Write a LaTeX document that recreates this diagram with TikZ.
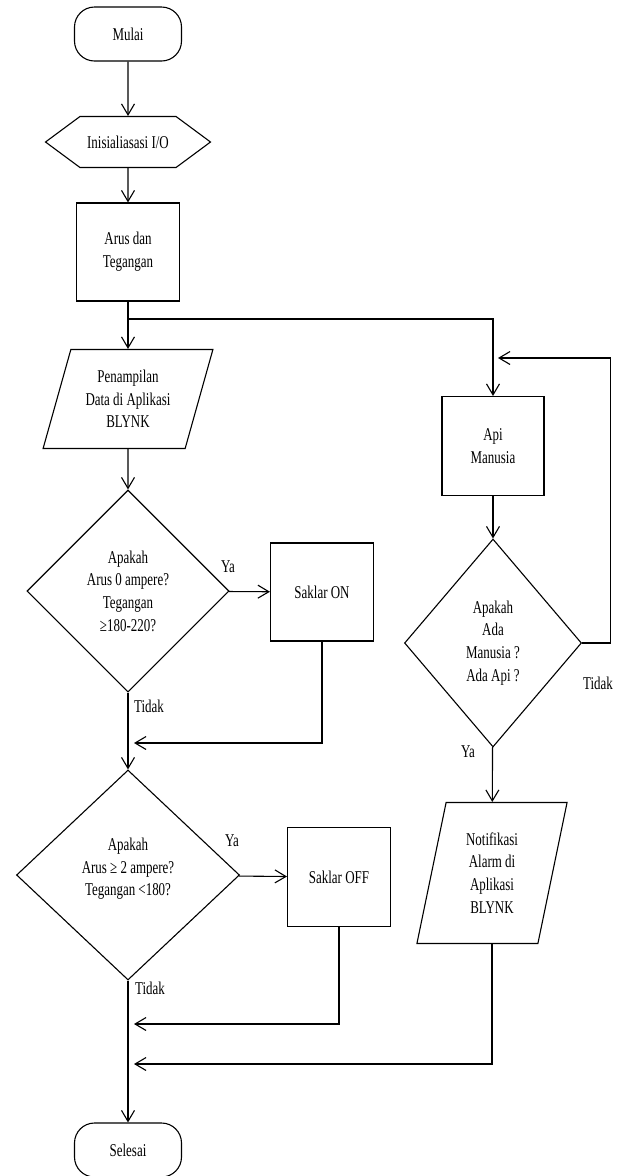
\documentclass[tikz,border=0pt]{standalone}
\usepackage{fontspec}
\setmainfont{Liberation Serif}[FakeStretch=0.72]
\usetikzlibrary{shapes.geometric,shapes.symbols,arrows.meta}
\begin{document}
\begin{tikzpicture}[x=1pt,y=-1pt,line width=1.1pt,
  font=\fontsize{18}{22.7}\selectfont,
  every node/.style={align=center},
  ujung/.style={draw,rounded corners=20pt,minimum width=107pt,minimum height=54pt},
  kotak/.style={draw,minimum width=103pt,minimum height=98pt},
  data/.style={draw,trapezium,trapezium stretches=true},
  cek/.style={draw,diamond,inner sep=0pt},
  panah/.style={-{Straight Barb[length=11pt,width=13pt]}}]
\useasboundingbox (0,0) rectangle (618,1176);
\node[ujung] (mulai) at (128,34) {Mulai};
\node[draw,signal,signal to=west and east,signal pointer angle=73,
  minimum width=165pt,minimum height=51pt] (init) at (128,142) {Inisialiasasi I/O};
\node[kotak] (arus) at (128,252) {Arus dan\\Tegangan};
\node[data,trapezium left angle=71,trapezium right angle=109,
  minimum width=170pt,minimum height=99pt] (tampil) at (128,399) {Penampilan\\Data di Aplikasi\\BLYNK};
\node[cek,minimum width=202pt,minimum height=202pt] (cek1) at (128,591)
  {Apakah\\Arus 0 ampere?\\Tegangan\\≥180-220?};
\node[kotak] (on) at (322,592) {Saklar ON};
\node[cek,minimum width=223pt,minimum height=210pt,text depth=16pt] (cek2) at (128,875)
  {Apakah\\Arus ≥ 2 ampere?\\Tegangan <180?};
\node[kotak,minimum width=103pt,minimum height=99pt] (off) at (339,877) {Saklar OFF};
\node[ujung] (selesai) at (128,1150) {Selesai};
\node[kotak,minimum width=102pt,minimum height=99pt] (api) at (493,446) {Api\\Manusia};
\node[cek,minimum width=177pt,minimum height=208pt] (cek3) at (493,643)
  {Apakah\\Ada\\Manusia ?\\Ada Api ?};
\node[data,trapezium left angle=78,trapezium right angle=102,
  minimum width=151pt,minimum height=141pt] (notif) at (492,873) {Notifikasi\\Alarm di\\Aplikasi\\BLYNK};
% label cabang
\node (ya1) at (228,567) {Ya};
\node (ya2) at (232,841) {Ya};
\node (ya3) at (468,752) {Ya};
\node (tidak1) at (149,706) {Tidak};
\node (tidak2) at (150,988) {Tidak};
\node (tidak3) at (598,683) {Tidak};
% titik temu
\coordinate (cabang) at (128,319);
\coordinate (balik) at (498,358);
\coordinate (gab1) at (134,743);
\coordinate (gab2) at (134,1024);
\coordinate (gab3) at (134,1064);
\draw[panah] (mulai) -- (init);
\draw[panah] (init) -- (arus);
\draw[panah] (arus) -- (tampil);
\draw[panah] (cabang) -| (api);
\draw[panah] (tampil) -- (cek1);
\draw[panah] (cek1) -- (on);
\draw[panah] (cek1) -- (cek2);
\draw[panah] (on) |- (gab1);
\draw[panah] (cek2) -- (off);
\draw[panah] (cek2) -- (selesai);
\draw[panah] (off) |- (gab2);
\draw[panah] (api) -- (cek3);
\draw[panah] (cek3) -- (notif);
\draw[panah] (cek3.east) -- ++(28,0) |- (balik);
\draw[panah] (notif) |- (gab3);
\end{tikzpicture}
\end{document}
